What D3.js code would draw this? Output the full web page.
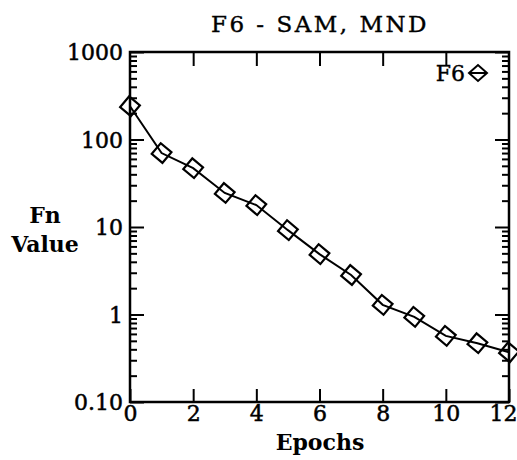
<!DOCTYPE html>
<html>
<head>
<meta charset="utf-8">
<script src="https://cdn.jsdelivr.net/npm/d3@7"></script>
<style>
  body { margin: 0; background: #fff; }
  text { font-family: "DejaVu Serif", serif; fill: #000; }
</style>
</head>
<body>
<div id="chart"></div>
<script>
var width = 517, height = 460;

// data
var epochs = [0, 1, 2, 3, 4, 5, 6, 7, 8, 9, 10, 11, 12];
var fnValue = [240, 70, 47, 24.5, 17.8, 9.2, 4.9, 2.83, 1.29, 0.94, 0.57, 0.47, 0.37];
var xTicks = [0, 2, 4, 6, 8, 10, 12];
var yTicks = [0.1, 1, 10, 100, 1000];
var yTickLabels = ["0.10", "1", "10", "100", "1000"];
var seriesName = "F6";

var margin = {left: 130, right: 8, top: 52, bottom: 58};

var x = d3.scaleLinear().domain([0, 12]).range([margin.left, width - margin.right]);
var y = d3.scaleLog().domain([0.1, 1000]).range([height - margin.bottom, margin.top]);

var svg = d3.select("#chart").append("svg")
    .attr("width", width)
    .attr("height", height);

var minor = y.ticks().filter(function(d) { return yTicks.indexOf(d) < 0; });

function styleAxis(g) {
  g.select(".domain").remove();
  g.selectAll("line").attr("stroke", "#000").attr("stroke-width", 2);
  g.selectAll("text")
      .style("font-size", "22px")
      .attr("stroke", "#000")
      .attr("stroke-width", 0.5);
}

// bottom
var bx = svg.append("g")
    .attr("transform", "translate(0," + y.range()[0] + ")")
    .call(d3.axisBottom(x).tickValues(xTicks).tickSize(-13).tickPadding(3)
      .tickFormat(d3.format("d")))
    .call(styleAxis);
// last label sits at the window edge: pull it inside
bx.selectAll("text").filter(function(d) { return d === 12; })
    .attr("text-anchor", "end").attr("dx", 8);

// top
svg.append("g")
    .attr("transform", "translate(0," + y.range()[1] + ")")
    .call(d3.axisTop(x).tickValues(xTicks.slice(1, -1)).tickSize(-14).tickFormat(""))
    .call(styleAxis);

// left
svg.append("g")
    .attr("transform", "translate(" + x.range()[0] + ",0)")
    .call(d3.axisLeft(y).tickValues(yTicks).tickSize(-14).tickPadding(7)
      .tickFormat(function(d, i) { return yTickLabels[i]; }))
    .call(styleAxis)
    .selectAll("text").attr("dy", "0.36em");

svg.append("g")
    .attr("transform", "translate(" + x.range()[0] + ",0)")
    .call(d3.axisLeft(y).tickValues(minor).tickSize(-7).tickFormat(""))
    .call(styleAxis);

// right
svg.append("g")
    .attr("transform", "translate(" + x.range()[1] + ",0)")
    .call(d3.axisRight(y).tickValues(yTicks).tickSize(-14).tickFormat(""))
    .call(styleAxis);

svg.append("g")
    .attr("transform", "translate(" + x.range()[1] + ",0)")
    .call(d3.axisRight(y).tickValues(minor).tickSize(-7).tickFormat(""))
    .call(styleAxis);

// frame
svg.append("rect")
    .attr("x", x.range()[0])
    .attr("y", y.range()[1])
    .attr("width", x.range()[1] - x.range()[0])
    .attr("height", y.range()[0] - y.range()[1])
    .attr("fill", "none")
    .attr("stroke", "#000")
    .attr("stroke-width", 2.5);

// series
var pts = epochs.map(function(d, i) { return [d, fnValue[i]]; });

svg.append("path")
    .datum(pts)
    .attr("fill", "none")
    .attr("stroke", "#000")
    .attr("stroke-width", 2)
    .attr("d", d3.line()
      .x(function(d) { return x(d[0]); })
      .y(function(d) { return y(d[1]); }));

svg.append("g").selectAll("rect")
    .data(pts)
  .enter().append("rect")
    .attr("x", -7).attr("y", -7)
    .attr("width", 14).attr("height", 14)
    .attr("fill", "none")
    .attr("stroke", "#000")
    .attr("stroke-width", 2.2)
    .attr("transform", function(d) {
      return "translate(" + x(d[0]) + "," + y(d[1]) + ") rotate(40)";
    });

// legend
var lg = svg.append("g").attr("transform", "translate(478,73)");
lg.append("text")
    .attr("x", -13)
    .attr("y", 8)
    .attr("text-anchor", "end")
    .style("font-size", "22px")
    .attr("stroke", "#000")
    .attr("stroke-width", 0.4)
    .text(seriesName);
lg.append("path")
    .attr("d", "M-9,0L0,-8L9,0L0,8Z M-9,0H9")
    .attr("fill", "none")
    .attr("stroke", "#000")
    .attr("stroke-width", 2);

// titles
svg.append("text")
    .attr("x", 320)
    .attr("y", 32)
    .attr("text-anchor", "middle")
    .style("font-size", "23px")
    .style("letter-spacing", "2.5px")
    .attr("stroke", "#000")
    .attr("stroke-width", 0.4)
    .text("F6 - SAM, MND");

svg.append("text")
    .attr("x", 320)
    .attr("y", 450)
    .attr("text-anchor", "middle")
    .style("font-size", "22px")
    .style("font-weight", "bold")
    .text("Epochs");

var yl = svg.append("text")
    .attr("text-anchor", "middle")
    .style("font-size", "22px")
    .style("font-weight", "bold");
yl.append("tspan").attr("x", 45).attr("y", 223).text("Fn");
yl.append("tspan").attr("x", 45).attr("y", 252).text("Value");
</script>
</body>
</html>
